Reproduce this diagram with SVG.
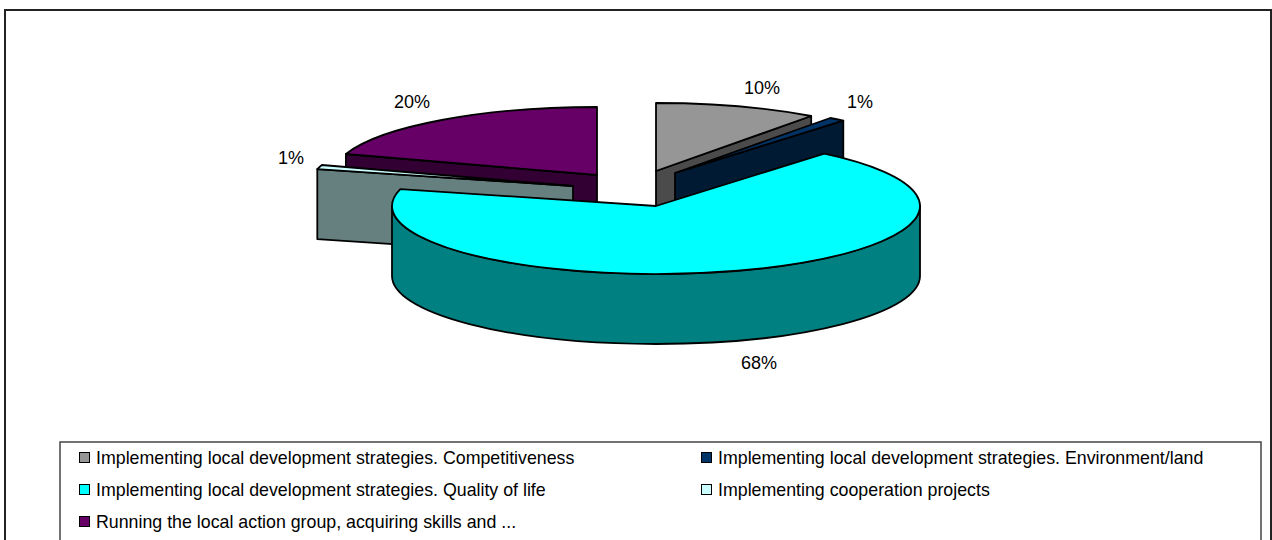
<svg xmlns="http://www.w3.org/2000/svg" width="1272" height="540" viewBox="0 0 1272 540">
<style>
.o{stroke:#000;stroke-width:1.8;stroke-linejoin:round}
.lbl{font-family:"Liberation Sans",Arial,sans-serif;font-size:18px;fill:#000;text-anchor:middle}
.lg{font-family:"Liberation Sans",Arial,sans-serif;font-size:17.8px;fill:#000}
.mk{stroke:#000;stroke-width:1}
</style>
<rect x="0" y="0" width="1272" height="540" fill="#fff"/>
<rect id="frame" x="5" y="10" width="1266" height="540" fill="#fff" stroke="#222" stroke-width="2"/>
<g id="slice-competitiveness">
<path class="o" fill="#4b4b4b" d="M656,171 L811.2,116 L811.2,186 L656,241 Z"/>
<path class="o" fill="#969696" d="M656,171 L811.2,116 A264,68 0 0 0 656,103 Z"/>
</g>
<g id="slice-environment">
<path class="o" fill="#001a33" d="M675,173 L843.3,120.6 L843.3,190.6 L675,243 Z"/>
<path class="o" fill="#003366" d="M675,173 L843.3,120.6 A264,68 0 0 0 830.2,118 Z"/>
</g>
<g id="slice-running">
<path class="o" fill="#330033" d="M597,175 L345.9,154 L345.9,224 L597,245 Z"/>
<path class="o" fill="#660066" d="M597,175 L597,107 A264,68 0 0 0 345.9,154 Z"/>
</g>
<g id="slice-cooperation">
<path class="o" fill="#668080" d="M573,186 L317.3,169.1 L317.3,239.1 L573,256 Z"/>
<path class="o" fill="#ccffff" d="M573,186 L321.9,165 A264,68 0 0 0 317.3,169.1 Z"/>
</g>
<g id="slice-quality">
<path class="o" fill="#008080" d="M392,206 A264,68 0 0 0 920,206 L920,276 A264,68 0 0 1 392,276 Z"/>
<path class="o" fill="#00ffff" d="M656,206 L824.3,153.6 A264,68 0 1 1 400.3,189.1 Z"/>
</g>
<g id="labels">
<text class="lbl" x="762" y="94">10%</text>
<text class="lbl" x="860" y="108">1%</text>
<text class="lbl" x="412" y="108">20%</text>
<text class="lbl" x="291" y="164">1%</text>
<text class="lbl" x="759" y="369">68%</text>
</g>
<g id="legend">
<rect x="60" y="442" width="1201" height="110" fill="#fff" stroke="#444" stroke-width="1.5"/>
<rect class="mk" x="79.5" y="452.5" width="10" height="10" fill="#969696"/>
<text class="lg" x="96" y="464">Implementing local development strategies. Competitiveness</text>
<rect class="mk" x="79.5" y="484.5" width="10" height="10" fill="#00ffff"/>
<text class="lg" x="96" y="496">Implementing local development strategies. Quality of life</text>
<rect class="mk" x="79.5" y="516.5" width="10" height="10" fill="#660066"/>
<text class="lg" x="96" y="528">Running the local action group, acquiring skills and ...</text>
<rect class="mk" x="701.5" y="452.5" width="10" height="10" fill="#003366"/>
<text class="lg" x="718" y="464">Implementing local development strategies. Environment/land</text>
<rect class="mk" x="701.5" y="484.5" width="10" height="10" fill="#ccffff"/>
<text class="lg" x="718" y="496">Implementing cooperation projects</text>
</g>
</svg>
